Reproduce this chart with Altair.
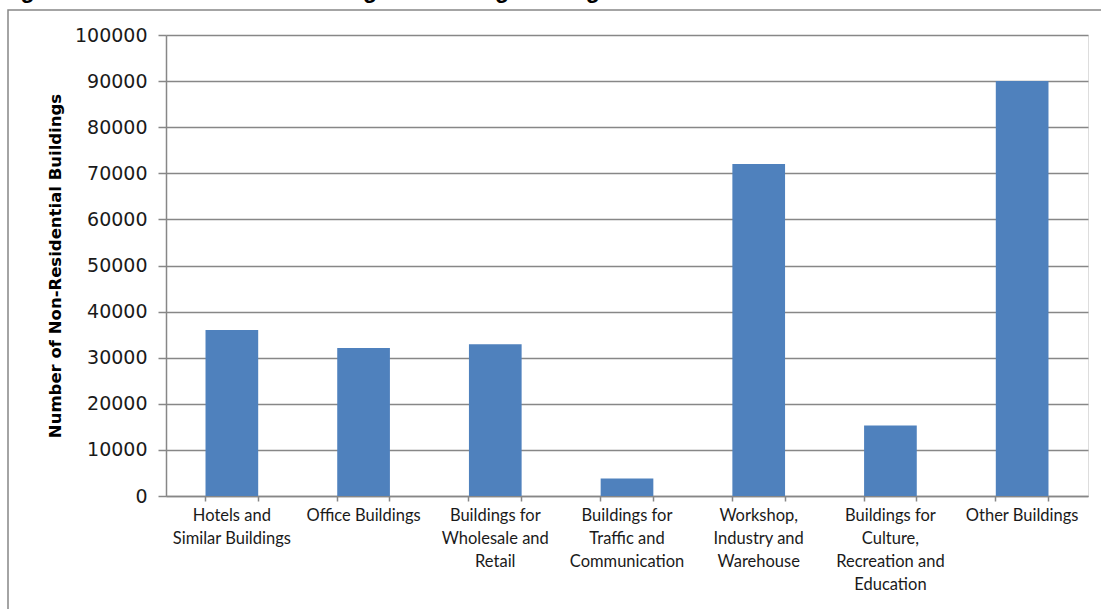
import altair as alt
import pandas as pd

# Building categories (line breaks mark wrapped axis labels) and counts
categories = [
    "Hotels and\nSimilar Buildings",
    "Office Buildings",
    "Buildings for\nWholesale and\nRetail",
    "Buildings for\nTraffic and\nCommunication",
    "Workshop,\nIndustry and\nWarehouse",
    "Buildings for\nCulture,\nRecreation and\nEducation",
    "Other Buildings",
]
counts = [36000, 32100, 32900, 3800, 72000, 15300, 90000]
y_ticks = [0, 10000, 20000, 30000, 40000, 50000, 60000, 70000, 80000, 90000, 100000]

title_text = "Figure 4: Non-Residential Buildings According to Usage"

df = pd.DataFrame({"category": categories, "count": counts})

GRID = "#878787"
BAR = "#4F81BD"

x_scale = alt.Scale(domain=categories, paddingInner=0.6, paddingOuter=0.3)
y_scale = alt.Scale(domain=[0, 100000])

# Outer frame around the chart
frame = alt.Chart(pd.DataFrame({"k": [0]})).mark_rect(
    fillOpacity=0, stroke=GRID, strokeWidth=1.5
).encode(
    x=alt.value(-158), x2=alt.value(1000), y=alt.value(-25), y2=alt.value(700)
)

# Figure caption above the frame
caption = alt.Chart(pd.DataFrame({"t": [title_text]})).mark_text(
    font="Liberation Sans", fontWeight="bold", fontSize=23, align="left",
    baseline="alphabetic", color="#000000"
).encode(text="t:N", x=alt.value(-166), y=alt.value(-37))

bars = alt.Chart(df).mark_bar(color=BAR).encode(
    x=alt.X(
        "category:N", scale=x_scale, sort=categories,
        axis=alt.Axis(
            title=None, orient="bottom", labelAngle=0, ticks=False,
            domainColor=GRID, domainWidth=1.5,
            labelExpr="split(datum.label, '\\n')",
            labelFont="Lato", labelFontSize=16.5, labelColor="#1a1a1a",
            labelLineHeight=23, labelPadding=11, labelBaseline="top",
            labelLimit=200,
        ),
    ),
    y=alt.Y(
        "count:Q", scale=y_scale,
        axis=alt.Axis(
            title="Number of Non-Residential Buildings",
            titleFont="DejaVu Sans", titleFontWeight="bold", titleFontSize=16.5,
            titleColor="#000000", titleX=-103, titleBaseline="bottom",
            values=y_ticks, format="d",
            labelFont="DejaVu Sans", labelFontSize=19, labelColor="#1a1a1a",
            labelPadding=11, tickSize=8, tickColor=GRID, tickWidth=1.5,
            domainColor=GRID, domainWidth=1.5,
            gridColor=GRID, gridWidth=1.5,
        ),
    ),
)

# Category separator ticks along the bottom axis (left and right band edges)
def edge_ticks(pos):
    return alt.Chart(df).mark_rule(opacity=0).encode(
        x=alt.X(
            "category:N", scale=x_scale, sort=categories,
            axis=alt.Axis(
                title=None, orient="bottom", labels=False, domain=False,
                bandPosition=pos, tickSize=5, tickColor=GRID, tickWidth=1.5,
            ),
        ),
    )

chart = alt.layer(bars, frame, caption, edge_ticks(0), edge_ticks(1)).resolve_axis(
    x="independent"
).properties(
    width=922, height=461,
    autosize=alt.AutoSizeParams(type="none"),
    padding={"left": 166, "top": 35, "right": 13, "bottom": 113},
).configure_view(stroke=None).configure(background="white")

chart.save("out.html", embed_options={"renderer": "svg", "actions": False})
